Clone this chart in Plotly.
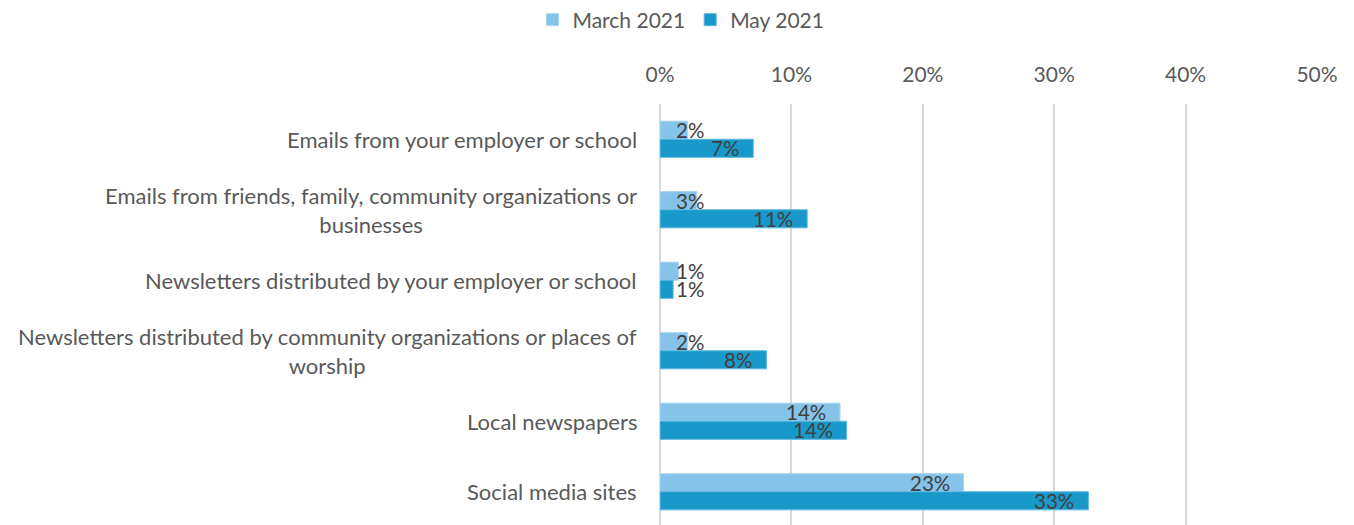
import plotly.graph_objects as go

categories = [
    "Emails from your employer or school",
    "Emails from friends, family, community organizations or<br>businesses",
    "Newsletters distributed by your employer or school",
    "Newsletters distributed by community organizations or places of<br>worship",
    "Local newspapers",
    "Social media sites",
]
march_2021 = [0.021, 0.028, 0.014, 0.021, 0.137, 0.231]
may_2021 = [0.071, 0.112, 0.010, 0.081, 0.142, 0.326]
series_names = ["March 2021", "May 2021"]
tick_values = [0, 0.1, 0.2, 0.3, 0.4, 0.5]
tick_labels = ["0%", "10%", "20%", "30%", "40%", "50%"]

FONT = "Lato"
colors = ["#85C3EA", "#1899C9"]
line_colors = ["#A9D5F0", "#5CB6DD"]

fig = go.Figure()
for name, vals, c, lc in zip(series_names, [march_2021, may_2021], colors, line_colors):
    fig.add_trace(go.Bar(
        y=categories, x=vals, name=name, orientation="h",
        marker=dict(color=c, line=dict(color=lc, width=1)),
        hoverinfo="skip",
    ))

annotations = []
# category labels (centered multi-line, right aligned block)
for cat in categories:
    annotations.append(dict(
        x=0, xref="paper", y=cat, yref="y", text=cat, showarrow=False,
        xanchor="right", yanchor="middle", align="center", xshift=-21,
        font=dict(family=FONT, size=22, color="#595959"),
    ))
# data labels
for vals, shift in [(march_2021, 9), (may_2021, -9)]:
    for cat, v in zip(categories, vals):
        txt = f"{round(v * 100):.0f}%"
        if v < 0.045:
            ann = dict(x=0, xanchor="left", xshift=15)
        else:
            ann = dict(x=v, xanchor="right", xshift=-13)
        ann.update(xref="x", y=cat, yref="y", yshift=shift, text=txt,
                   showarrow=False, yanchor="middle", borderpad=0,
                   font=dict(family=FONT, size=20.5, color="#404040"))
        annotations.append(ann)

fig.update_layout(
    width=1346, height=519,
    margin=dict(l=652, r=37, t=96, b=0),
    paper_bgcolor="white", plot_bgcolor="white",
    barmode="group", bargap=0.487, bargroupgap=0,
    font=dict(family=FONT, size=21, color="#595959"),
    legend=dict(orientation="h", x=0.5, xref="container", xanchor="center",
                y=1 - 12 / 519, yref="container", yanchor="middle",
                font=dict(family=FONT, size=21, color="#595959"),
                itemwidth=30, traceorder="normal"),
    annotations=annotations,
    xaxis=dict(side="top", range=[0, 0.5], tickvals=tick_values, ticktext=tick_labels,
               showgrid=True, gridcolor="#D9D9D9", gridwidth=2,
               zeroline=True, zerolinecolor="#D9D9D9", zerolinewidth=2,
               showline=False, ticks="", ticklabelstandoff=17,
               tickfont=dict(family=FONT, size=21, color="#595959")),
    yaxis=dict(autorange="reversed", showticklabels=False, showgrid=False,
               zeroline=False, showline=False, ticks=""),
)

fig.write_html("out.html")
